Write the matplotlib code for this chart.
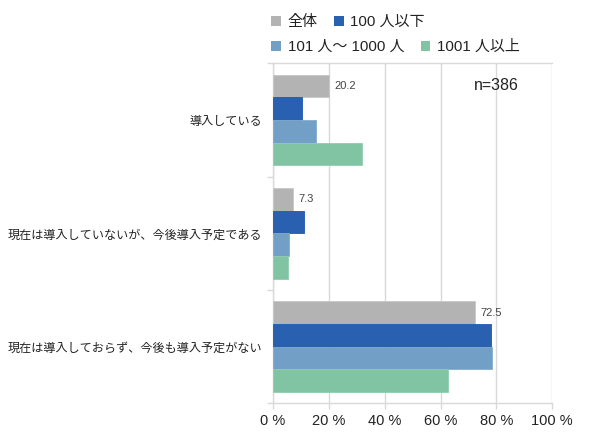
import numpy as np
import matplotlib
matplotlib.use("Agg")
import matplotlib.pyplot as plt
from matplotlib.patches import Patch
from matplotlib.ticker import FixedLocator

plt.rcParams['font.family'] = ['Liberation Sans', 'Noto Sans CJK JP', 'DejaVu Sans']

# data (percent)
categories = ["導入している",
              "現在は導入していないが、今後導入予定である",
              "現在は導入しておらず、今後も導入予定がない"]
series_names = ["全体", "100 人以下", "101 人～ 1000 人", "1001 人以上"]
series_values = [
    [20.2, 7.3, 72.5],   # 全体
    [10.3, 11.1, 78.0],  # 100 人以下
    [15.5, 5.9, 78.5],   # 101 人～ 1000 人
    [31.7, 5.5, 62.7],   # 1001 人以上
]
x_ticks = [0, 20, 40, 60, 80, 100]
x_ticklabels = ["0 %", "20 %", "40 %", "60 %", "80 %", "100 %"]
sample_note = "n=386"

colors = ["#b3b3b3", "#2a60b0", "#729fc6", "#81c4a4"]
edges = ["#c8c8c8", "#1f56b4", "#84abcc", "#92ccb0"]
grid_col = "#d9d9d9"

fig = plt.figure(figsize=(5.9, 4.42), dpi=100)
ax = fig.add_axes([0.4627, 0.0876, 0.4734, 0.7692])

pos = np.arange(len(categories))
h = 0.2
for i, vals in enumerate(series_values):
    ax.barh(pos - 0.3 + i * h, vals, height=h, color=colors[i],
            edgecolor=edges[i], linewidth=0.6, zorder=3)

# labels on the overall (全体) bars
for p, v in zip(pos, series_values[0]):
    ax.text(v + 1.8, p - 0.3, f"{v:.1f}", va='center', ha='left',
            fontsize=8, color='#444444', zorder=4)

ax.set_xlim(0, 100)
ax.set_ylim(len(categories) - 0.5, -0.5)

ax.set_xticks(x_ticks)
ax.set_xticklabels(x_ticklabels, fontsize=10.5, color='#222222')
ax.tick_params(axis='x', length=4, width=1, color=grid_col, pad=4)

ax.set_yticks(pos)
ax.set_yticklabels(categories, fontsize=8.7, color='#222222',
                   family=['Noto Sans CJK JP', 'DejaVu Sans'])
ax.tick_params(axis='y', which='major', length=0, pad=8)
ax.yaxis.set_minor_locator(FixedLocator(np.arange(-0.5, len(categories), 1.0)))
ax.tick_params(axis='y', which='minor', length=4.5, width=1, color=grid_col)

ax.xaxis.grid(True, color=grid_col, linewidth=1, zorder=0)
for s in ['left', 'bottom', 'top']:
    ax.spines[s].set_color(grid_col)
    ax.spines[s].set_linewidth(1)
ax.spines['right'].set_visible(False)

ax.text(0.8, 0.935, sample_note, transform=ax.transAxes, ha='center',
        va='center', fontsize=11.5, color='#222222')

# legend in two rows, like the original flow layout
handles = [Patch(facecolor=c, edgecolor='none') for c in colors]
leg_kw = dict(frameon=False, fontsize=10.8, handlelength=0.65, handleheight=0.65,
              handletextpad=0.45, columnspacing=1.1, borderaxespad=0,
              borderpad=0, loc='upper left')
leg1 = fig.legend(handles[:2], series_names[:2], ncol=2,
                  bbox_to_anchor=(271 / 590, 1 - 15 / 442), **leg_kw)
leg2 = fig.legend(handles[2:], series_names[2:], ncol=2,
                  bbox_to_anchor=(271 / 590, 1 - 40 / 442), **leg_kw)
for leg in (leg1, leg2):
    for t in leg.get_texts():
        t.set_color('#222222')

fig.savefig("out.png", dpi=100)
